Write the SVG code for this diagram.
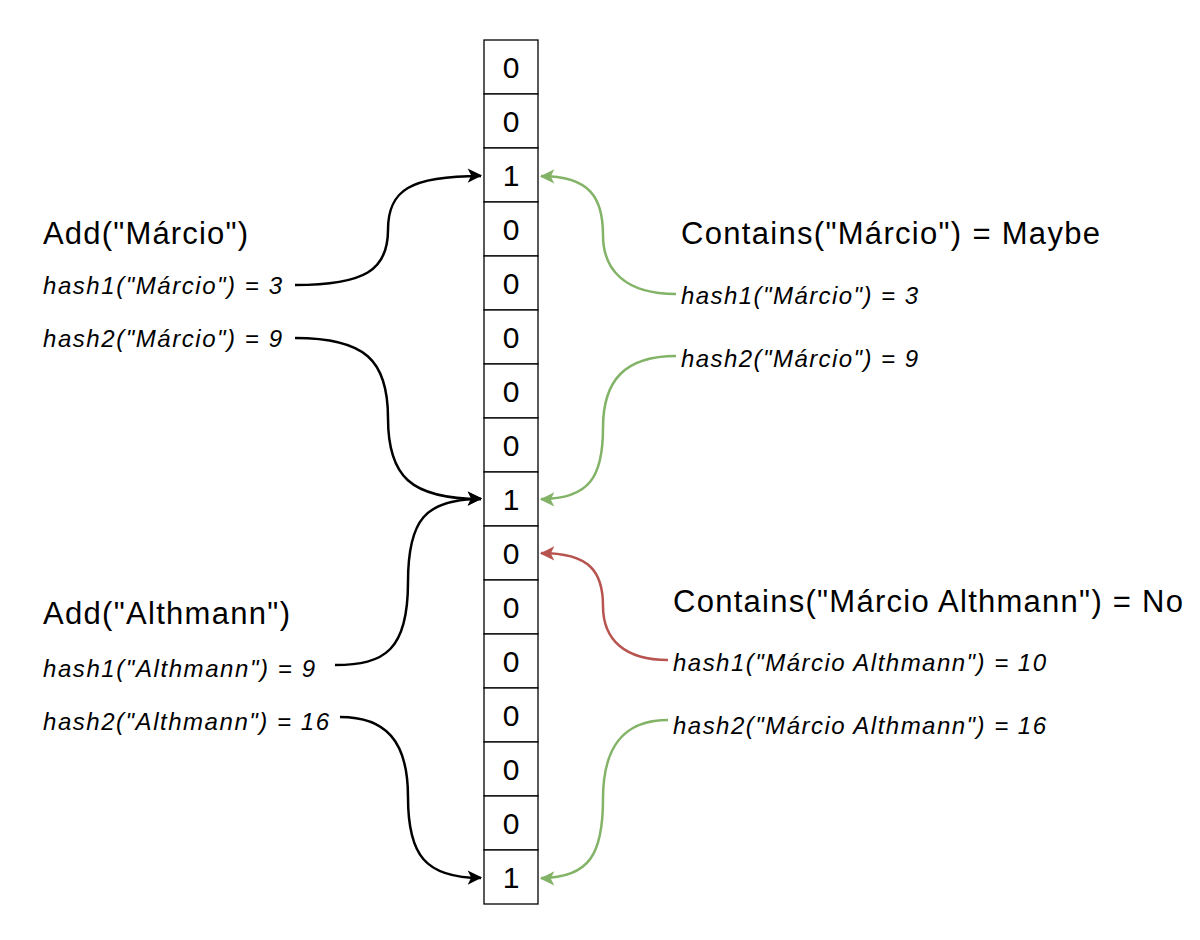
<svg xmlns="http://www.w3.org/2000/svg" width="1200" height="940" viewBox="0 0 1200 940">
<style>
.cell{fill:#fff;stroke:#000;stroke-width:1.3}
.v{font-family:"Liberation Sans",Arial,sans-serif;font-size:30px;text-anchor:middle;fill:#000}
.t{font-family:"Liberation Sans",Arial,sans-serif;font-size:31px;fill:#000}
.h{font-family:"Liberation Sans",Arial,sans-serif;font-size:24px;font-style:italic;fill:#000}
.k{fill:none;stroke:#000;stroke-width:2.5}
.g{fill:none;stroke:#82b366;stroke-width:2.5}
.r{fill:none;stroke:#b85450;stroke-width:2.5}
</style>
<defs>
<marker id="ak" viewBox="0 0 12 12" refX="11" refY="6" markerWidth="8" markerHeight="8" markerUnits="userSpaceOnUse" orient="auto" style="overflow:visible"><path d="M0,0 L12,6 L0,12 L3,6 Z" fill="#000" transform="scale(1.8) translate(-5,-3)"/></marker>
<marker id="ag" viewBox="0 0 12 12" refX="11" refY="6" markerWidth="8" markerHeight="8" markerUnits="userSpaceOnUse" orient="auto" style="overflow:visible"><path d="M0,0 L12,6 L0,12 L3,6 Z" fill="#82b366" transform="scale(1.8) translate(-5,-3)"/></marker>
<marker id="ar" viewBox="0 0 12 12" refX="11" refY="6" markerWidth="8" markerHeight="8" markerUnits="userSpaceOnUse" orient="auto" style="overflow:visible"><path d="M0,0 L12,6 L0,12 L3,6 Z" fill="#b85450" transform="scale(1.8) translate(-5,-3)"/></marker>
</defs>
<g id="array">
<rect class="cell" x="484" y="40" width="54" height="54"/><text class="v" x="511" y="78">0</text>
<rect class="cell" x="484" y="94" width="54" height="54"/><text class="v" x="511" y="132">0</text>
<rect class="cell" x="484" y="148" width="54" height="54"/><text class="v" x="511" y="186">1</text>
<rect class="cell" x="484" y="202" width="54" height="54"/><text class="v" x="511" y="240">0</text>
<rect class="cell" x="484" y="256" width="54" height="54"/><text class="v" x="511" y="294">0</text>
<rect class="cell" x="484" y="310" width="54" height="54"/><text class="v" x="511" y="348">0</text>
<rect class="cell" x="484" y="364" width="54" height="54"/><text class="v" x="511" y="402">0</text>
<rect class="cell" x="484" y="418" width="54" height="54"/><text class="v" x="511" y="456">0</text>
<rect class="cell" x="484" y="472" width="54" height="54"/><text class="v" x="511" y="510">1</text>
<rect class="cell" x="484" y="526" width="54" height="54"/><text class="v" x="511" y="564">0</text>
<rect class="cell" x="484" y="580" width="54" height="54"/><text class="v" x="511" y="618">0</text>
<rect class="cell" x="484" y="634" width="54" height="54"/><text class="v" x="511" y="672">0</text>
<rect class="cell" x="484" y="688" width="54" height="54"/><text class="v" x="511" y="726">0</text>
<rect class="cell" x="484" y="742" width="54" height="54"/><text class="v" x="511" y="780">0</text>
<rect class="cell" x="484" y="796" width="54" height="54"/><text class="v" x="511" y="834">0</text>
<rect class="cell" x="484" y="850" width="54" height="54"/><text class="v" x="511" y="888">1</text>
</g>
<g id="add-marcio">
<text class="t" x="43" y="244" textLength="205">Add("Márcio")</text>
<text class="h" x="43" y="294" textLength="239">hash1("Márcio") = 3</text>
<text class="h" x="43" y="347" textLength="239">hash2("Márcio") = 9</text>
</g>
<g id="add-althmann">
<text class="t" x="43" y="624" textLength="247">Add("Althmann")</text>
<text class="h" x="43" y="677" textLength="272">hash1("Althmann") = 9</text>
<text class="h" x="43" y="730" textLength="286">hash2("Althmann") = 16</text>
</g>
<g id="contains-marcio">
<text class="t" x="681" y="244" textLength="419">Contains("Márcio") = Maybe</text>
<text class="h" x="681" y="304" textLength="237">hash1("Márcio") = 3</text>
<text class="h" x="681" y="367" textLength="237">hash2("Márcio") = 9</text>
</g>
<g id="contains-full">
<text class="t" x="673" y="612" textLength="510">Contains("Márcio Althmann") = No</text>
<text class="h" x="673" y="671" textLength="373">hash1("Márcio Althmann") = 10</text>
<text class="h" x="673" y="734" textLength="373">hash2("Márcio Althmann") = 16</text>
</g>
<g id="connectors">
<path class="k" marker-end="url(#ak)" d="M295,285 C365,285 388,270 388,230 C388,190 410,176 481,176"/>
<path class="k" marker-end="url(#ak)" d="M295,338 C365,338 388,360 388,418 C388,476 410,499 481,499"/>
<path class="k" marker-end="url(#ak)" d="M335,665 C385,665 408,650 408,582 C408,520 425,499 481,499"/>
<path class="k" marker-end="url(#ak)" d="M340,717 C385,717 408,740 408,797 C408,855 425,878 481,878"/>
<path class="g" marker-end="url(#ag)" d="M676,294 C625,294 603,270 603,235 C603,198 590,176 541,176"/>
<path class="g" marker-end="url(#ag)" d="M676,356 C625,356 603,380 603,428 C603,476 590,499 541,499"/>
<path class="r" marker-end="url(#ar)" d="M668,660 C625,660 603,640 603,606 C603,572 590,553 541,553"/>
<path class="g" marker-end="url(#ag)" d="M668,720 C625,720 603,745 603,799 C603,853 590,878 541,878"/>
</g>
</svg>
